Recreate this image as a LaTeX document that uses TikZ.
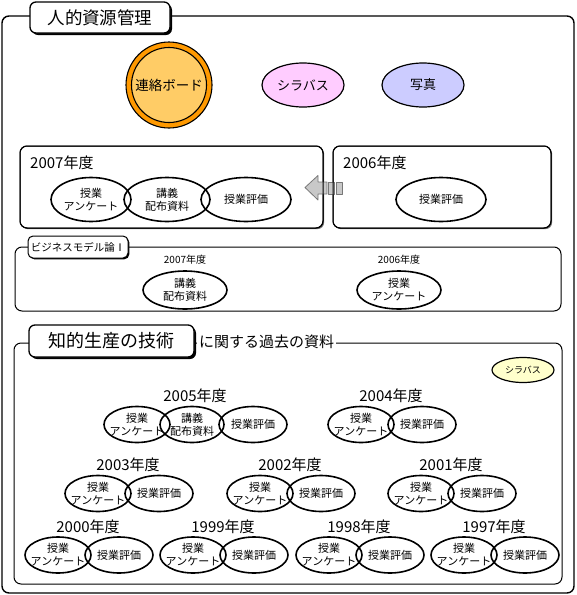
\documentclass[tikz,border=0pt]{standalone}
\usepackage{fontspec}
\setmainfont{Noto Sans CJK JP}
\usetikzlibrary{shapes.geometric,shadows}
\definecolor{ringor}{HTML}{FF9900}
\definecolor{boardin}{HTML}{FFCC66}
\definecolor{pinkf}{HTML}{FFCCFF}
\definecolor{bluef}{HTML}{CCCCFF}
\definecolor{yellowf}{HTML}{FFFFCC}
\definecolor{arrowf}{HTML}{C8C8C8}
\definecolor{arrowd}{HTML}{777777}
\tikzset{
 frame/.style={draw, rectangle, rounded corners=7pt, line width=1pt, inner sep=0pt, outer sep=0pt},
 panel/.style={frame, fill=white, drop shadow={opacity=1, fill=black!55, shadow xshift=1.2pt, shadow yshift=-1.2pt}},
 titlebox/.style={draw, fill=white, rectangle, rounded corners=6pt, line width=1.3pt, inner sep=0pt,
   drop shadow={opacity=1, fill=black, shadow xshift=2pt, shadow yshift=-2pt}},
 smalltitle/.style={draw, fill=white, rectangle, rounded corners=5pt, line width=1pt, inner sep=0pt,
   drop shadow={opacity=1, fill=black, shadow xshift=1.3pt, shadow yshift=-1.3pt}},
 ov/.style args={#1/#2}{ellipse, draw, line width=1.6pt, minimum width=#1, minimum height=#2, inner sep=0pt},
 et/.style={font=\fontsize{11}{13}\selectfont, align=center, inner sep=0pt},
 yr/.style={font=\fontsize{15}{17}\selectfont, inner sep=0pt},
 yrs/.style={font=\fontsize{10}{12}\selectfont, inner sep=0pt},
 arrowpart/.style={fill=arrowf, draw=arrowd, line width=0.8pt, line join=round}
}
\newcommand\YearPair[4]{%
  \node[yr] (#1) at (#3,#4) {#2年度};
  \node[ov=66/36, label={[et]center:{授業\\アンケート}}] (#1q) at ([shift={(-30,28.5)}]#1.center) {};
  \node[ov=68/36, label={[et]center:授業評価}] (#1h) at ([shift={(31,28.5)}]#1.center) {};
}
\begin{document}
\begin{tikzpicture}[x=1pt,y=-1pt]
\useasboundingbox (0,0) rectangle (577,595);
% outer frame and title
\node[frame, line width=1.4pt, minimum width=572, minimum height=577] (outer) at (288,304.5) {};
\node[titlebox, minimum width=140, minimum height=31, font=\fontsize{17.5}{20}\selectfont] (title) at (100,17.5) {人的資源管理};
% top items
\node[circle, draw, line width=1.1pt, fill=ringor, minimum size=86, inner sep=0pt] (ring) at (169,85) {};
\node[circle, draw, line width=1.1pt, fill=boardin, minimum size=75, inner sep=0pt, font=\fontsize{13.5}{16}\selectfont] (board) at (ring.center) {連絡ボード};
\node[ov=82/44, fill=pinkf, line width=1.2pt, font=\fontsize{13}{15}\selectfont] (syl) at (303,85) {シラバス};
\node[ov=82/44, fill=bluef, line width=1.2pt, font=\fontsize{13}{15}\selectfont] (photo) at (423,85) {写真};
% 2007 / 2006 panels
\node[panel, minimum width=303, minimum height=82] (b07) at (171.5,187) {};
\node[panel, minimum width=218, minimum height=82] (b06) at (442,187) {};
\node[yr, anchor=west] (y07) at (30,163) {2007年度};
\node[yr, anchor=west] (y06) at (343,163) {2006年度};
\node[ov=80/44, label={[et]center:{授業\\アンケート}}] (q07) at (91,199.5) {};
\node[ov=86/44, label={[et]center:{講義\\配布資料}}] (k07) at (167,199.5) {};
\node[ov=90/44, label={[et]center:授業評価}] (h07) at (246,199.5) {};
\node[ov=90/44, label={[et]center:授業評価}] (h06) at (441,199.5) {};
% arrow from 2006 to 2007
\filldraw[arrowpart] (305,187.5) -- (318,175.5) -- (318,182) -- (327,182) -- (327,194) -- (318,194) -- (318,200) -- cycle;
\filldraw[arrowpart] (328.5,182) rectangle (334.5,194);
\filldraw[arrowpart] (336.5,182) rectangle (342,194);
\draw[line width=1pt, rounded corners=7pt] (b07.north west) rectangle (b07.south east);
\draw[line width=1pt, rounded corners=7pt] (b06.north west) rectangle (b06.south east);
% business model section
\node[frame, minimum width=546, minimum height=64] (biz) at (288,279) {};
\node[smalltitle, minimum width=100, minimum height=22, font=\fontsize{10.5}{12}\selectfont] (bizl) at (78,247) {ビジネスモデル論Ⅰ};
\node[yrs] (by07) at (185,260) {2007年度};
\node[ov=84/38, label={[et]center:{講義\\配布資料}}] (bk07) at (185,290) {};
\node[yrs] (by06) at (399,260) {2006年度};
\node[ov=84/38, label={[et]center:{授業\\アンケート}}] (bq06) at (399,290) {};
% chiteki seisan section
\node[frame, minimum width=548, minimum height=241] (chi) at (288,463.5) {};
\node[titlebox, minimum width=165, minimum height=32, font=\fontsize{18}{20}\selectfont] (chil) at (111.5,341) {知的生産の技術};
\node[fill=white, anchor=west, inner xsep=2pt, inner ysep=1pt, font=\fontsize{15}{17}\selectfont] (chit) at (197,342) {に関する過去の資料};
\node[ov=62/25, fill=yellowf, line width=1.2pt, font=\fontsize{9}{11}\selectfont] (syl2) at (523,370) {シラバス};
% 2005 (three items)
\node[yr] (y05) at (195,396) {2005年度};
\node[ov=66/36, label={[et]center:{授業\\アンケート}}] (y05q) at (137,424.5) {};
\node[ov=64/36, label={[et]center:{講義\\配布資料}}] (y05k) at (192,424.5) {};
\node[ov=68/36, label={[et]center:授業評価}] (y05h) at (253,424.5) {};
% pairs
\YearPair{y04}{2004}{391}{396}
\YearPair{y03}{2003}{128}{465}
\YearPair{y02}{2002}{290}{465}
\YearPair{y01}{2001}{451}{465}
\YearPair{y00}{2000}{88}{526.5}
\YearPair{y99}{1999}{223}{526.5}
\YearPair{y98}{1998}{359}{526.5}
\YearPair{y97}{1997}{494}{526.5}
\end{tikzpicture}
\end{document}
